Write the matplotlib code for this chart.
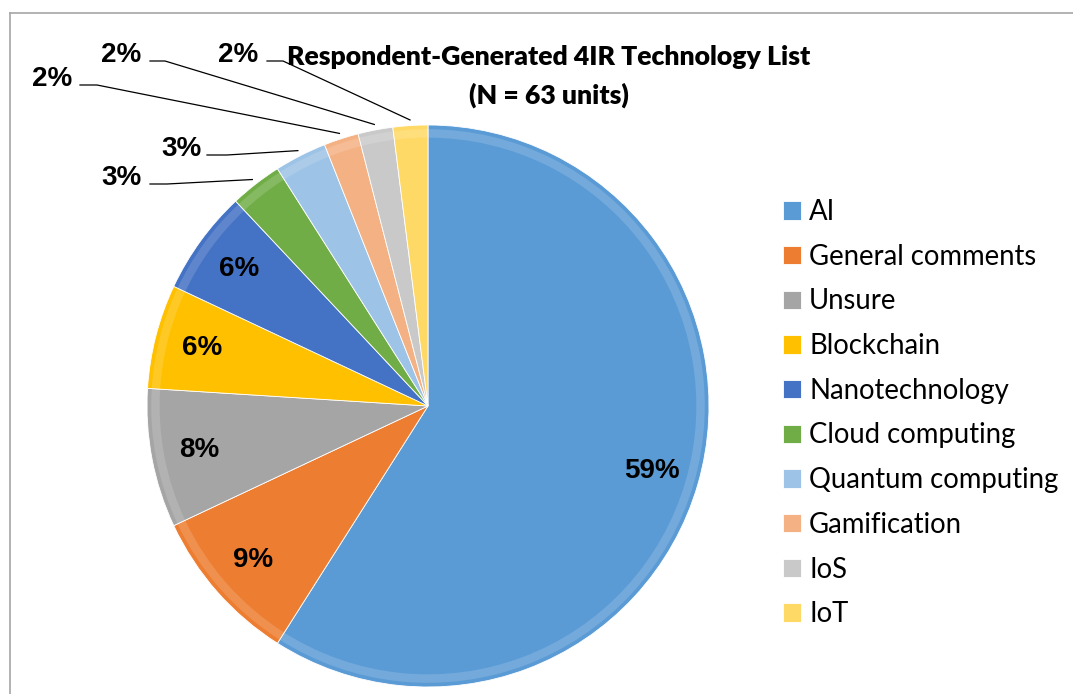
import numpy as np
import matplotlib.pyplot as plt
from matplotlib.lines import Line2D
from matplotlib.patches import Wedge

# slice data, clockwise from 12 o'clock
categories = ["AI", "General comments", "Unsure", "Blockchain", "Nanotechnology",
              "Cloud computing", "Quantum computing", "Gamification", "IoS", "IoT"]
shares = [59, 9, 8, 6, 6, 3, 3, 2, 2, 2]
colors = ["#5B9BD5", "#ED7D31", "#A5A5A5", "#FFC000", "#4472C4",
          "#70AD47", "#9DC3E6", "#F4B183", "#C9C9C9", "#FFD966"]

# text position of the outside labels (pixels, top-left origin) and leader elbow x
outside_text = {5: (121, 178), 6: (181, 149), 7: (52, 79), 8: (121, 55), 9: (238, 55)}
outside_elbow = {5: (150, 167), 6: (207, 227), 7: (80, 97), 8: (150, 165), 9: (267, 283)}

W, H = 1073, 694
fig = plt.figure(figsize=(W / 100, H / 100), dpi=100)
ax = fig.add_axes([0, 0, 1, 1])

cx, cy, r = 428, H - 406, 281

wedges, _ = ax.pie(shares, colors=colors, startangle=90, counterclock=False,
                   center=(cx, cy), radius=r, frame=True,
                   wedgeprops=dict(edgecolor="white", linewidth=0.6))
ax.set_xlim(0, W)
ax.set_ylim(0, H)
ax.set_aspect("equal")
ax.axis("off")

# faint bevel: lighter rim inside each wedge
for w in wedges:
    ax.add_patch(Wedge((cx, cy), r * 0.985, w.theta1, w.theta2, width=r * 0.03,
                       facecolor="white", alpha=0.15, edgecolor="none"))

lab_font = dict(family="Liberation Sans", fontweight="bold", fontsize=20, color="black")
for i, w in enumerate(wedges):
    mid = np.deg2rad((w.theta1 + w.theta2) / 2)
    if i in outside_text:
        tx, ty = outside_text[i]
        ex0, ex1 = outside_elbow[i]
        px, py = cx + r * 1.02 * np.cos(mid), cy + r * 1.02 * np.sin(mid)
        ly = H - ty - 6
        ax.add_line(Line2D([ex0, ex1, px], [ly, ly, py], color="black", lw=0.9))
        ax.text(tx, H - ty, f"{shares[i]}%", ha="center", va="center", **lab_font)
    else:
        d = 0.83 * r
        ax.text(cx + d * np.cos(mid), cy + d * np.sin(mid), f"{shares[i]}%",
                ha="center", va="center", **lab_font)

ax.text(549, H - 57, "Respondent-Generated 4IR Technology List", ha="center", va="center",
        family="Lato", fontweight="heavy", fontsize=19.2)
ax.text(549, H - 95, "(N = 63 units)", ha="center", va="center",
        family="Lato", fontweight="heavy", fontsize=19.2)

leg = ax.legend(wedges, categories, loc="upper left", bbox_to_anchor=(783 / W, 1 - 199 / H),
                bbox_transform=fig.transFigure, frameon=False, prop=dict(family="Lato", size=19.8),
                handlelength=0.65, handleheight=0.65, handletextpad=0.3, labelspacing=0.68,
                borderpad=0, borderaxespad=0)

# chart area border (left and top edges visible)
fig.add_artist(Line2D([10 / W, 10 / W], [0, 1 - 13 / H], transform=fig.transFigure,
                      color="#A6A6A6", lw=1.2))
fig.add_artist(Line2D([10 / W, 1], [1 - 13 / H, 1 - 13 / H], transform=fig.transFigure,
                      color="#A6A6A6", lw=1.2))

fig.savefig("out.png", dpi=100)
